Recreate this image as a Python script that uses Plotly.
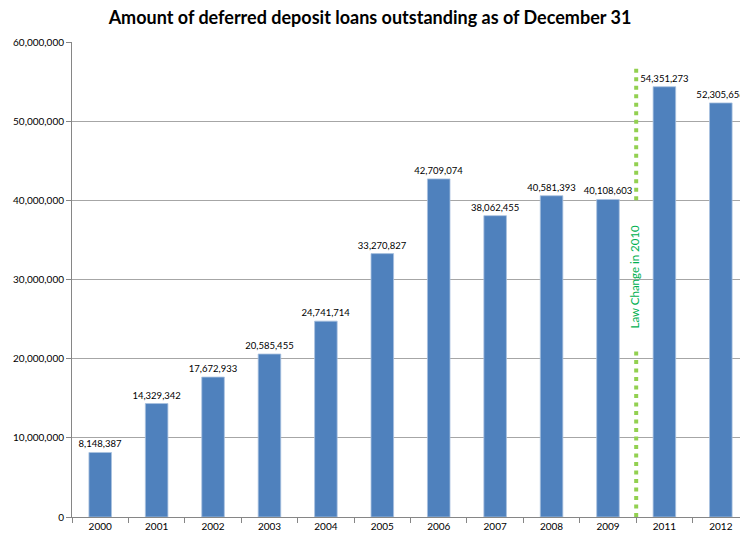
import plotly.graph_objects as go

years = ["2000", "2001", "2002", "2003", "2004", "2005", "2006", "2007", "2008", "2009", "2011", "2012"]
amounts = [8148387, 14329342, 17672933, 20585455, 24741714, 33270827, 42709074,
           38062455, 40581393, 40108603, 54351273, 52305656]
y_ticks = [0, 10000000, 20000000, 30000000, 40000000, 50000000, 60000000]
y_tick_labels = ["0", "10,000,000", "20,000,000", "30,000,000", "40,000,000", "50,000,000", "60,000,000"]
law_label = "Law Change in 2010"

FONT = "Lato, Open Sans, sans-serif"

fig = go.Figure()
fig.add_trace(go.Bar(
    x=years, y=amounts, width=0.4,
    marker=dict(color="#4F81BD", line=dict(color="#A9C1E0", width=0.8)),
    text=[f"{v:,}" for v in amounts], textposition="outside", constraintext="none",
    textfont=dict(size=9.5, color="#000000", family=FONT),
    cliponaxis=False,
))

# law change dotted line (between 2009 and 2011)
line_style = dict(color="#92D050", width=4, dash="4px,4.5px")
fig.add_shape(type="line", xref="x", yref="y", x0=9.5, x1=9.5, y0=0, y1=21100000, line=line_style)
fig.add_shape(type="line", xref="x", yref="y", x0=9.5, x1=9.5, y0=40000000, y1=56800000, line=line_style)
fig.add_annotation(x=9.5, y=30400000, xref="x", yref="y", text=law_label, textangle=-90,
                   showarrow=False, xshift=-2, font=dict(size=11.5, color="#00B050", family=FONT))

fig.update_layout(
    width=740, height=539,
    margin=dict(l=72, r=0, t=42, b=22),
    paper_bgcolor="white", plot_bgcolor="white",
    showlegend=False,
    title=dict(text="<b>Amount of deferred deposit loans outstanding as of December 31</b>",
               x=0.5, xanchor="center", y=0.967, yanchor="middle",
               font=dict(size=18, color="#000000", family=FONT)),
    font=dict(family=FONT, size=10, color="#000000"),
)
fig.update_xaxes(type="category", range=[-0.5, 11.34], showline=True, linecolor="#868686",
                 ticks="outside", tickson="boundaries", ticklen=5, tickcolor="#868686",
                 showgrid=False, tickfont=dict(size=10, color="#000000"))
fig.update_yaxes(range=[0, 60000000], tickvals=y_ticks, ticktext=y_tick_labels,
                 showline=True, linecolor="#868686", ticks="outside", ticklen=5,
                 tickcolor="#868686", showgrid=True, gridcolor="#A6A6A6", gridwidth=1,
                 zeroline=False, tickfont=dict(size=10, color="#000000"))

fig.write_html("out.html")
